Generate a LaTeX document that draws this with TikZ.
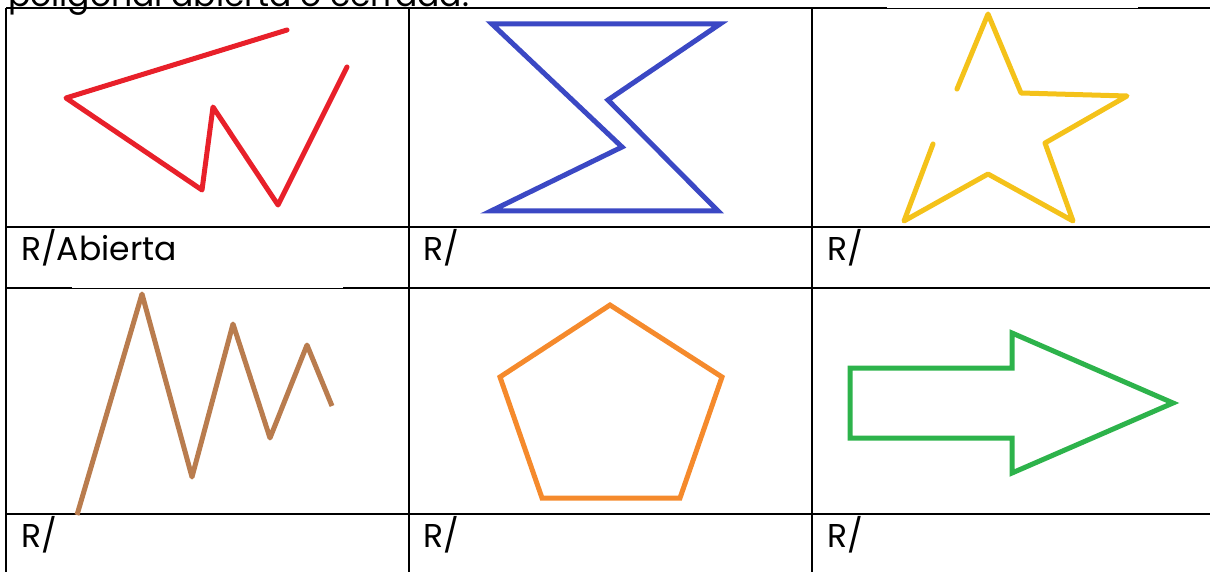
\documentclass[tikz,border=0pt]{standalone}
\usepackage{fontspec}
\setmainfont{Poppins}
\definecolor{cred}{HTML}{E8202A}
\definecolor{cblue}{HTML}{3B48C4}
\definecolor{cgold}{HTML}{F4C21A}
\definecolor{cbrown}{HTML}{B97C4E}
\definecolor{corange}{HTML}{F58A2C}
\definecolor{cgreen}{HTML}{2DB34B}
\begin{document}
\begin{tikzpicture}[x=1pt,y=-1pt,
  grid/.style={line width=2pt,black},
  thingrid/.style={line width=0.7pt,black},
  figline/.style={line width=5pt,line join=round,line cap=round},
  lbl/.style={anchor=base west,inner sep=0pt,font=\fontsize{33}{38}\selectfont}]
\useasboundingbox (0,0) rectangle (1210,572);
\clip (0,0) rectangle (1210,572);
% heading (cut off at the top)
\node[lbl] (title) at (8,7) {poligonal abierta o cerrada.};
% table lines
\draw[grid] (6,8) -- (887,8) (1138,8) -- (1210,8);
\draw[thingrid] (887,8) -- (1138,8);
\draw[grid] (6,227) -- (1210,227);
\draw[grid] (6,288) -- (72,288) (343,288) -- (1210,288);
\draw[thingrid] (72,288) -- (343,288);
\draw[grid] (6,514) -- (1210,514);
\draw[grid] (6,8) -- (6,572);
\draw[grid] (409,8) -- (409,572);
\draw[grid] (812,8) -- (812,572);
% red open polyline
\draw[figline,cred] (287,30) -- (66,98) -- (202,190) -- (213,107) -- (278,205) -- (347,67);
% blue closed
\draw[figline,cblue,line join=miter] (492,24) -- (720,24) -- (608,100) -- (718,211) -- (491,211) -- (622,147) -- cycle;
% gold open star
\draw[figline,cgold] (957,89) -- (988,14) -- (1021,93) -- (1127,96) -- (1045,143) -- (1073,221) -- (988,174) -- (904,221) -- (933,144);
% brown zigzag
\draw[figline,cbrown,line cap=butt] (77,515) -- (142,294) -- (192,477) -- (233,324) -- (270,438) -- (307,345) -- (332,406);
% orange pentagon
\draw[figline,corange,line join=miter] (610,305) -- (722,377) -- (680,498) -- (542,498) -- (500,377) -- cycle;
% green arrow
\draw[figline,cgreen,line join=miter] (850,368) -- (1012,368) -- (1012,333) -- (1173,403) -- (1012,473) -- (1012,438) -- (850,438) -- cycle;
% labels
\node[lbl] (t1) at (21,260) {R/Abierta};
\node[lbl] (t2) at (423,260) {R/};
\node[lbl] (t3) at (827,260) {R/};
\node[lbl] (t4) at (21,547) {R/};
\node[lbl] (t5) at (423,547) {R/};
\node[lbl] (t6) at (827,547) {R/};
\end{tikzpicture}
\end{document}
